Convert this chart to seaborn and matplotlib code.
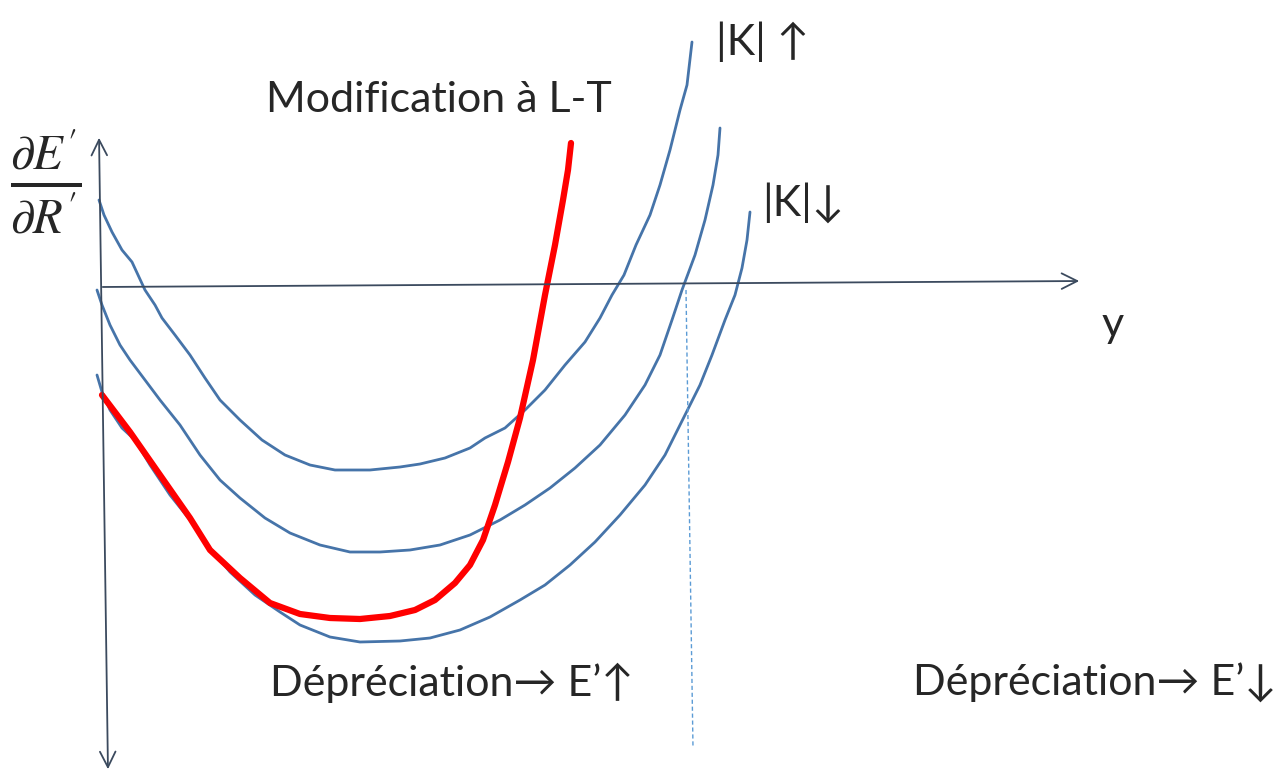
import matplotlib
matplotlib.use("Agg")
import matplotlib.pyplot as plt
import seaborn as sns
import pandas as pd

# hand-drawn curves (pixel space, y grows downward)
top_x = [99, 104, 112, 122, 132, 145, 155, 162, 175, 190, 205, 220, 240, 262, 285, 310, 335, 370, 400, 420, 445, 470, 485, 505, 525, 545, 565, 585, 600, 612, 624, 636, 650, 660, 670, 680, 687, 692]
top_y = [200, 215, 232, 250, 262, 290, 305, 318, 335, 355, 378, 400, 420, 440, 455, 465, 470, 470, 467, 464, 458, 448, 438, 428, 410, 390, 365, 342, 318, 295, 275, 245, 215, 185, 150, 110, 85, 42]

mid_x = [97, 102, 110, 120, 130, 145, 160, 180, 200, 220, 240, 265, 290, 320, 350, 380, 410, 440, 470, 500, 525, 550, 575, 600, 625, 645, 660, 672, 682, 695, 705, 713, 718, 720]
mid_y = [290, 305, 325, 345, 360, 380, 400, 425, 455, 480, 498, 518, 533, 545, 552, 552, 550, 545, 535, 520, 505, 488, 468, 445, 415, 385, 355, 320, 290, 255, 220, 185, 155, 128]

bot_x = [97, 102, 110, 122, 135, 150, 170, 190, 210, 230, 255, 280, 300, 330, 360, 400, 430, 460, 490, 520, 545, 570, 595, 620, 645, 665, 685, 700, 712, 725, 735, 742, 747, 750]
bot_y = [375, 392, 410, 428, 440, 465, 495, 520, 548, 572, 595, 612, 625, 637, 642, 641, 638, 630, 617, 600, 585, 565, 542, 515, 485, 455, 415, 385, 355, 320, 295, 268, 240, 212]

red_x = [102, 130, 160, 190, 210, 240, 270, 300, 330, 360, 390, 415, 435, 455, 470, 483, 495, 508, 520, 533, 545, 555, 563, 568, 571]
red_y = [395, 432, 475, 518, 550, 578, 603, 614, 618, 619, 616, 610, 600, 583, 565, 540, 505, 462, 418, 360, 295, 245, 200, 170, 143]

dash_x = [686, 693]
dash_y = [290, 748]

curves = pd.concat([
    pd.DataFrame({"x": top_x, "y": top_y, "curve": "K_haut"}),
    pd.DataFrame({"x": mid_x, "y": mid_y, "curve": "K_milieu"}),
    pd.DataFrame({"x": bot_x, "y": bot_y, "curve": "K_bas"}),
], ignore_index=True)
red = pd.DataFrame({"x": red_x, "y": red_y})

sns.set_theme(style="white")
plt.rcParams["font.family"] = ["Lato", "DejaVu Sans"]
plt.rcParams["mathtext.fontset"] = "stix"

fig = plt.figure(figsize=(12.79, 7.76), dpi=100)
ax = fig.add_axes([0, 0, 1, 1])
ax.set_xlim(0, 1279)
ax.set_ylim(776, 0)
ax.axis("off")

axis_col = "#3b4a5e"
# axes with arrows
ax.annotate("", xy=(99, 135), xytext=(108, 772),
            arrowprops=dict(arrowstyle="<->", color=axis_col, lw=1.3, mutation_scale=28))
ax.annotate("", xy=(1082, 281), xytext=(100, 287),
            arrowprops=dict(arrowstyle="->", color=axis_col, lw=1.3, mutation_scale=28))

sns.lineplot(data=curves, x="x", y="y", units="curve", estimator=None, sort=False,
             color="#4674a9", lw=2, ax=ax)
sns.lineplot(data=red, x="x", y="y", estimator=None, sort=False,
             color="#ff0000", lw=4.5, ax=ax)
ax.plot(dash_x, dash_y, color="#5b9bd5", lw=1, ls=(0, (3, 2)))

ax.text(10, 182, r"$\frac{\partial E'}{\partial R'}$", fontsize=50, ha="left", va="center")
ax.text(266, 100, "Modification à L-T", fontsize=31, ha="left", va="center")
ax.text(716, 42, "|K| ↑", fontsize=31, ha="left", va="center")
ax.text(762, 203, "|K|↓", fontsize=31, ha="left", va="center")
ax.text(1102, 325, "y", fontsize=31, ha="left", va="center")
ax.text(270, 683, "Dépréciation→ E’↑", fontsize=31, ha="left", va="center")
ax.text(913, 683, "Dépréciation→ E’↓", fontsize=31, ha="left", va="center")

fig.savefig("out.png", dpi=100)
